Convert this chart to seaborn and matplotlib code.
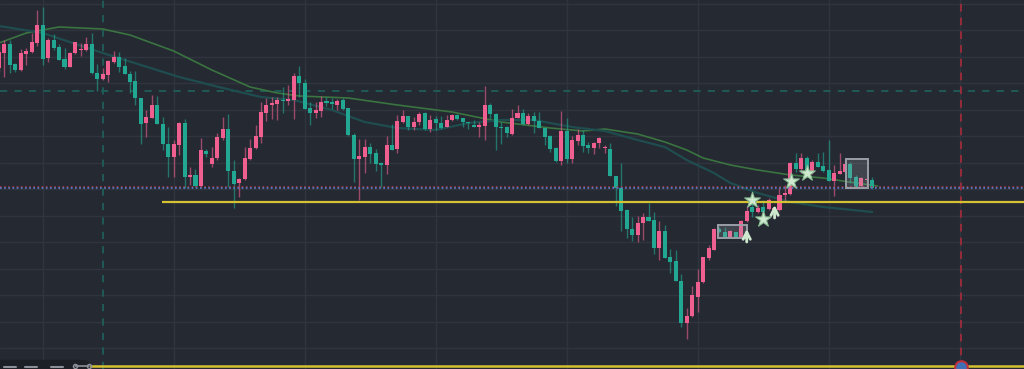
import numpy as np
import matplotlib
matplotlib.use('Agg')
import matplotlib.pyplot as plt
import seaborn as sns
from matplotlib.patches import Rectangle, FancyBboxPatch

# hourly candles, bar -1 is cut off by the left edge
first_bar = -1
opens = [301, 316, 325, 305, 299, 315, 317, 326, 344, 311, 329, 322, 310, 302, 316, 319, 319, 325, 296, 290,
         294, 307, 312, 303, 295, 288, 271, 246, 251, 264, 245, 225, 212, 224, 246, 192, 194, 183, 218, 205,
         211, 231, 240, 198, 186, 190, 210, 221, 232, 256, 264, 265, 269, 268, 269, 293, 286, 261, 256, 258,
         268, 267, 264, 269, 261, 234, 210, 212, 222, 216, 206, 204, 224, 220, 247, 253, 242, 247, 256, 240,
         250, 246, 242, 249, 254, 251, 247, 244, 242, 243, 264, 255, 242, 242, 235, 251, 256, 245, 253, 248,
         241, 233, 221, 208, 238, 210, 228, 234, 224, 221, 226, 221, 220, 193, 181, 159, 140, 134, 146, 152,
         149, 121, 138, 112, 108, 88, 46, 53, 72, 87, 111, 119, 140, 137, 132, 137, 132, 148, 162, 157,
         162, 160, 159, 159, 174, 175, 206, 200, 211, 196, 207, 203, 199, 188, 195, 197, 205, 192, 183, 189,
         189]
highs = [324, 329, 329, 306, 320, 321, 336, 359, 362, 331, 335, 325, 321, 317, 327, 326, 332, 336, 305, 301,
         309, 318, 317, 311, 298, 298, 271, 259, 274, 273, 252, 242, 229, 247, 250, 202, 200, 231, 220, 222,
         236, 252, 255, 209, 191, 222, 230, 244, 267, 271, 272, 272, 282, 284, 296, 303, 290, 267, 267, 273,
         272, 271, 270, 271, 261, 236, 230, 230, 226, 220, 207, 233, 245, 254, 259, 253, 252, 257, 257, 254,
         253, 253, 254, 255, 255, 251, 247, 249, 247, 283, 266, 256, 247, 243, 260, 264, 260, 256, 257, 257,
         242, 234, 222, 258, 251, 233, 240, 239, 227, 227, 232, 224, 226, 193, 206, 160, 152, 153, 156, 166,
         157, 148, 144, 120, 119, 95, 61, 83, 100, 112, 124, 141, 142, 142, 139, 137, 149, 163, 168, 164,
         169, 171, 162, 181, 184, 207, 216, 216, 213, 209, 216, 217, 229, 204, 216, 209, 207, 194, 192, 192,
         192]
lows = [297, 292, 296, 297, 298, 304, 316, 323, 304, 307, 319, 309, 300, 302, 315, 313, 318, 295, 278, 289,
        287, 306, 297, 295, 276, 264, 225, 232, 251, 245, 219, 192, 192, 214, 181, 184, 182, 182, 212, 202,
        209, 229, 182, 161, 172, 189, 209, 220, 226, 248, 250, 249, 256, 264, 250, 272, 260, 244, 251, 252,
        263, 260, 259, 259, 233, 187, 169, 196, 206, 198, 182, 195, 219, 216, 246, 239, 239, 244, 239, 237,
        239, 240, 242, 248, 249, 242, 240, 242, 232, 229, 250, 219, 225, 232, 234, 251, 244, 244, 236, 241,
        224, 217, 207, 204, 206, 206, 224, 217, 216, 215, 221, 216, 193, 163, 138, 131, 128, 127, 129, 148,
        115, 109, 111, 96, 88, 42, 30, 52, 57, 86, 109, 119, 136, 132, 131, 132, 132, 147, 152, 156,
        156, 159, 158, 158, 167, 174, 197, 196, 196, 195, 202, 197, 188, 173, 195, 196, 186, 182, 182, 183,
        180]
closes = [317, 325, 304, 299, 316, 318, 327, 344, 310, 329, 321, 309, 302, 316, 327, 320, 325, 296, 290, 295,
          308, 312, 302, 295, 287, 271, 245, 252, 264, 245, 225, 212, 225, 246, 192, 194, 183, 219, 215, 211,
          232, 240, 198, 185, 190, 211, 221, 233, 257, 264, 266, 269, 268, 270, 293, 286, 260, 256, 259, 267,
          266, 265, 268, 260, 234, 210, 213, 222, 215, 205, 204, 224, 219, 248, 253, 242, 247, 255, 240, 249,
          246, 241, 249, 254, 250, 247, 246, 242, 244, 264, 255, 242, 241, 236, 251, 256, 245, 253, 248, 241,
          232, 220, 208, 238, 210, 229, 234, 223, 221, 226, 231, 222, 193, 181, 158, 140, 134, 146, 152, 148,
          121, 138, 111, 107, 88, 46, 53, 74, 87, 112, 121, 140, 137, 132, 138, 132, 148, 158, 157, 161,
          157, 169, 161, 174, 176, 206, 200, 211, 197, 207, 202, 198, 188, 196, 198, 205, 191, 182, 191, 190,
          181]

# moving averages, sampled at bar positions
ma_slow_bar = [-1, 4, 10, 18, 23, 31, 38, 45, 50, 54, 63, 72, 82, 91, 100, 106, 110, 116, 121, 125, 128,
               133, 138, 144, 150, 156, 160]
ma_slow = [326, 336, 342, 340, 334, 318, 299, 282, 276, 273, 271, 264, 257, 247, 241, 238, 240, 235, 227, 219, 211,
           204, 199, 194, 191, 186, 183]
ma_fast_bar = [-1, 7, 18, 25, 32, 40, 47, 53, 60, 66, 72, 79, 85, 91, 97, 104, 110, 116, 121, 125,
               130, 133, 138, 144, 150, 159]
ma_fast = [343, 336, 316, 304, 292, 281, 272, 269, 259, 247, 241, 239, 246, 249, 249, 242, 238, 229, 222, 209,
           196, 186, 176, 167, 162, 157]

# drawn levels and markers
last_price = 181.5
support = 167.3
support_start = 28.9
bottom_level = 3
dash_level = 278.3
dash_bar = 18
now_bar = 175.2
star_bar = [136.9, 139.0, 144.1, 147.0]
star_price = [169, 150, 188.5, 195.7]
arrow_bar = [136.0, 141.1]
arrow_low = [127, 151]
arrow_high = [140, 164]
boxes = [(130.7, 136.0, 131, 144), (154.2, 158.3, 181, 210)]

bg = '#252932'
grid_c = '#30343e'
up_c = '#ef6090'
down_c = '#22a892'

sns.set_theme(style='dark', rc={'axes.facecolor': bg, 'figure.facecolor': bg})

fig = plt.figure(figsize=(10.24, 3.69), dpi=100)
ax = fig.add_axes([0, 0, 1, 1])

bars = np.arange(first_bar, first_bar + len(opens))
o = np.array(opens, float)
c = np.array(closes, float)
up = c >= o
cols = np.where(up, up_c, down_c)

ax.vlines(bars, lows, highs, colors=cols, lw=1, alpha=0.6, zorder=3)
bottom = np.minimum(o, c)
height = np.maximum(np.abs(c - o), 0.9)
ax.bar(bars, height, bottom=bottom, width=0.74, color=cols, linewidth=0, zorder=4)

sns.lineplot(x=ma_slow_bar, y=ma_slow, ax=ax, color='#3a7440', lw=1.2, zorder=2)
sns.lineplot(x=ma_fast_bar, y=ma_fast, ax=ax, color='#1f4d4f', lw=1.6, zorder=2)

ax.axhline(dash_level, color='#1f5e58', lw=1.3, ls=(0, (4, 4)), zorder=1)
ax.axvline(dash_bar, color='#1f5e58', lw=1.3, ls=(0, (4, 4)), zorder=1)
ax.axvline(now_bar, color='#b52a3c', lw=1.1, ls=(0, (5, 4)), zorder=1)
ax.axhline(last_price + 0.7, color='#a8343c', lw=1.2, ls=(0, (1, 1.5)), zorder=5)
ax.axhline(last_price - 0.7, color='#5a7ed0', lw=1.2, ls=(0, (1, 1.5)), zorder=5)
ax.hlines(support, support_start, 190, color='#d4c232', lw=1.6, zorder=5)
ax.axhline(bottom_level, color='#d4c232', lw=1.8, zorder=5)

for x0, x1, y0, y1 in boxes:
    ax.add_patch(Rectangle((x0, y0), x1 - x0, y1 - y0, facecolor=(0.65, 0.67, 0.7, 0.22),
                           edgecolor='#9a9ea6', lw=1.4, zorder=6))

ax.scatter(star_bar, star_price, marker='*', s=140, c='#cfe9cf', edgecolors='#8fbf98',
           linewidths=0.8, zorder=7)
for xb, lo, hi in zip(arrow_bar, arrow_low, arrow_high):
    ax.annotate('', xy=(xb, hi), xytext=(xb, lo),
                arrowprops=dict(arrowstyle='->', color='#cfe9cf', lw=2, mutation_scale=13,
                                shrinkA=0, shrinkB=0), zorder=7)

ax.plot([now_bar], [bottom_level - 1], marker='o', ms=9, mfc='#3f6fb5', mec='#c0303f', mew=1.5, zorder=8)

# toolbar stub in the bottom-left corner
ax.add_patch(FancyBboxPatch((-0.01, -0.02), 0.098, 0.045, boxstyle='round,pad=0,rounding_size=0.01',
                            transform=ax.transAxes, facecolor='#1c1f26', edgecolor='none', zorder=9))
for x_ax in [0.004, 0.024, 0.05]:
    ax.plot([x_ax, x_ax + 0.012], [0.006, 0.006], transform=ax.transAxes, color='#8c9099', lw=1.5, zorder=10)
ax.plot([0.073, 0.087], [0.008, 0.008], transform=ax.transAxes, color='#8c9099', lw=1.2,
        marker='o', ms=3, mfc='none', zorder=10)

ax.set_xlim(-0.82, 186.8)
ax.set_ylim(0, 369)
ax.set_xticks(np.arange(7, 187, 24))
ax.set_yticks(20.7 + 26.5 * np.arange(14))
ax.grid(True, color=grid_c, lw=1)
ax.tick_params(length=0, labelbottom=False, labelleft=False)
for s in ax.spines.values():
    s.set_visible(False)

fig.savefig('out.png', dpi=100, facecolor=bg)
